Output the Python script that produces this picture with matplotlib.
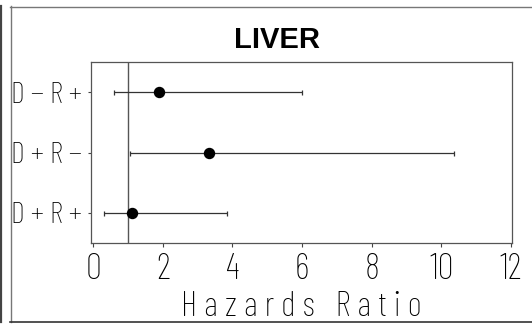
import matplotlib
matplotlib.use("Agg")
import matplotlib.pyplot as plt
from matplotlib.lines import Line2D

# Hazard ratios with 95% confidence limits, liver transplant CMV serostatus groups
groups = ["D + R +", "D + R \u2212", "D \u2212 R +"]
hr = [1.11, 3.33, 1.88]
lower = [0.32, 1.06, 0.59]
upper = [3.85, 10.37, 6.01]
xticks = [0, 2, 4, 6, 8, 10, 12]
title = "LIVER"
xlabel = "H a z a r d s   R a t i o"

thin = ["Barlow Condensed", "Roboto Condensed", "Saira Extra Condensed",
        "Liberation Sans Narrow", "DejaVu Sans"]

W, H, DPI = 532, 324, 100
fig = plt.figure(figsize=(W / DPI, H / DPI), dpi=DPI)
ax = fig.add_axes([91 / W, 1 - 243 / H, (512 - 91) / W, (243 - 62) / H])

ypos = list(range(1, len(groups) + 1))
err = [[h - l for h, l in zip(hr, lower)], [u - h for h, u in zip(hr, upper)]]
ax.errorbar(hr, ypos, xerr=err, fmt="o", color="black", ms=7.2,
            ecolor="#333333", elinewidth=0.9, capsize=1.8, capthick=0.9)
ax.axvline(1, color="#555555", lw=1.0, zorder=0)

ax.set_xlim(-0.06, 12.03)
ax.set_ylim(0.5, 3.5)
ax.set_xticks(xticks)
ax.set_xticklabels([str(t) for t in xticks], family=thin, fontweight="light", fontsize=26)
ax.set_yticks(ypos)
ax.set_yticklabels(groups, family=thin, fontweight="light", fontsize=21.5)
ax.tick_params(axis="x", length=3, width=0.8, color="#444444", pad=4)
ax.tick_params(axis="y", length=2, width=0.8, color="#444444", pad=4.5)
for s in ax.spines.values():
    s.set_color("#555555")
    s.set_linewidth(0.9)

ax.set_xlabel(xlabel, family=thin, fontweight="light", fontsize=25, labelpad=4)

fig.text(277 / W, 1 - 48 / H, title, ha="center", va="baseline",
         family=["Liberation Sans", "DejaVu Sans"], fontweight="bold", fontsize=21)

# outer frame
def px_line(xs, ys, color, lw):
    fig.add_artist(Line2D([x / W for x in xs], [1 - y / H for y in ys],
                          transform=fig.transFigure, color=color, lw=lw))

px_line([0.8, 0.8], [6, 322], "#444444", 1.6)
px_line([10.5, 10.5], [6, 322], "#777777", 1.0)
px_line([10, W], [6.5, 6.5], "#777777", 1.0)
px_line([10, W], [321.5, 321.5], "#333333", 1.2)

fig.savefig("out.png", dpi=DPI)
